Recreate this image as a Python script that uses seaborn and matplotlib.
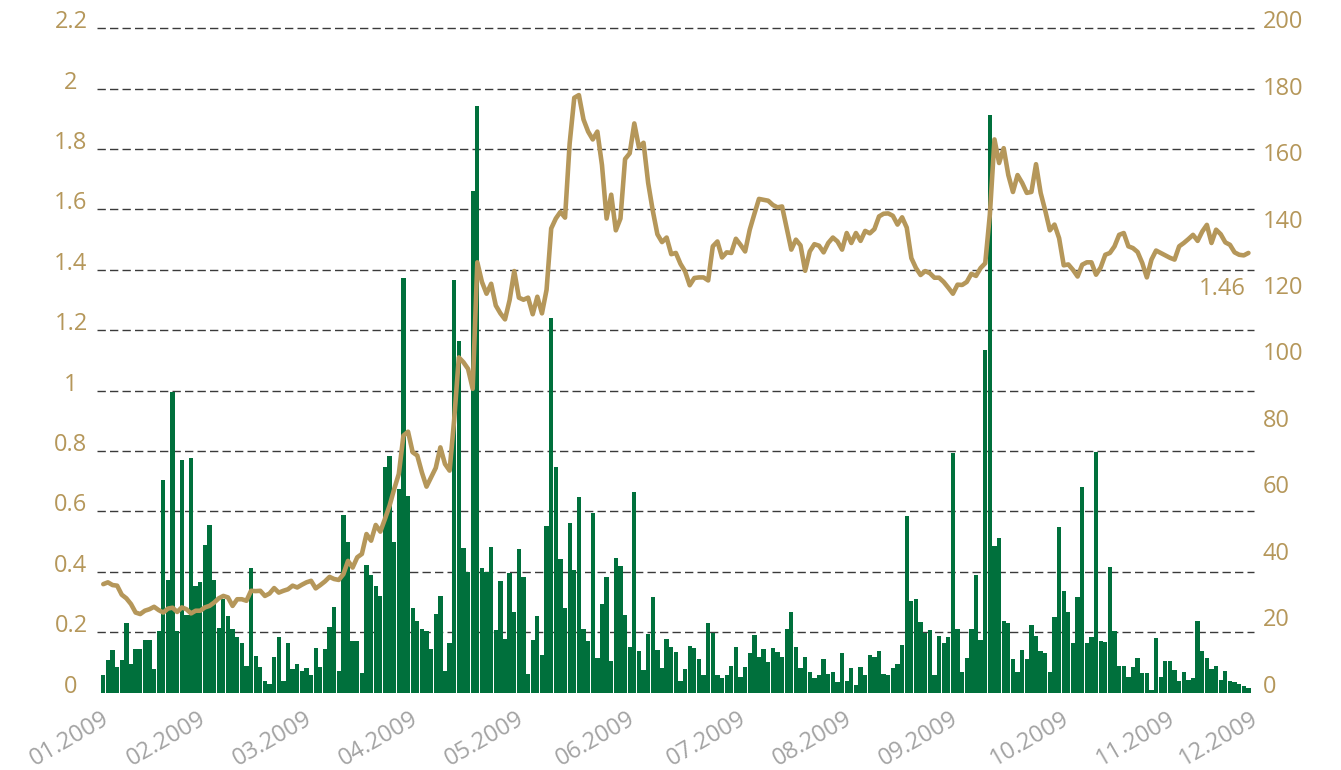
import numpy as np
import pandas as pd
import seaborn as sns
import matplotlib.pyplot as plt
from matplotlib import transforms

sns.set_style("white")
plt.rcParams["font.family"] = ["Open Sans", "DejaVu Sans"]

# ===================== DATA =====================
# daily turnover (right axis) and share price (left axis), one value per session
volume = [
    5.2, 9.7, 12.7, 7.8, 9.7, 20.8, 8.7, 13.0, 13.0, 15.9,
    15.8, 7.2, 18.6, 64.0, 33.8, 90.5, 18.6, 70.0, 23.4, 70.6,
    32.0, 33.3, 44.4, 50.5, 33.8, 19.5, 28.1, 22.9, 19.2, 16.6,
    14.8, 8.0, 37.6, 10.9, 7.7, 3.5, 2.7, 10.7, 16.7, 3.5,
    14.9, 7.2, 8.5, 6.5, 7.5, 5.3, 13.4, 7.7, 13.1, 19.6,
    25.8, 6.5, 53.5, 45.2, 15.4, 15.4, 6.0, 38.5, 35.5, 32.2,
    29.1, 68.0, 71.3, 45.2, 61.4, 124.8, 59.3, 25.6, 21.4, 19.1,
    18.6, 13.1, 23.6, 29.0, 6.5, 14.8, 124.1, 105.8, 43.4, 36.2,
    151.0, 176.5, 37.5, 36.3, 43.8, 18.8, 33.7, 16.1, 36.0, 24.2,
    43.2, 34.7, 5.5, 15.8, 23.0, 11.3, 50.0, 112.9, 68.0, 40.3,
    25.6, 51.2, 37.0, 59.0, 19.2, 15.5, 54.2, 10.5, 26.8, 34.7,
    9.6, 40.6, 38.1, 23.2, 13.8, 60.3, 12.6, 6.9, 17.6, 28.9,
    12.9, 7.5, 16.1, 13.8, 12.3, 3.6, 7.1, 14.1, 13.4, 10.1,
    5.4, 21.0, 17.8, 5.3, 4.3, 5.3, 8.1, 13.8, 4.8, 7.6,
    11.9, 17.3, 10.6, 13.0, 9.3, 13.5, 12.1, 10.6, 19.2, 24.4,
    13.6, 7.4, 10.6, 6.3, 4.4, 5.3, 10.0, 5.7, 6.3, 3.3,
    11.8, 3.6, 7.4, 2.4, 7.6, 5.3, 11.3, 10.8, 12.5, 5.7,
    5.4, 7.3, 8.7, 14.3, 53.1, 27.5, 28.3, 21.2, 18.0, 18.8,
    5.4, 17.0, 14.9, 16.7, 72.2, 19.2, 6.1, 10.5, 19.1, 35.5,
    15.8, 103.1, 174.0, 44.1, 46.4, 21.6, 20.8, 10.2, 6.1, 12.9,
    10.2, 20.2, 17.0, 12.6, 11.9, 6.3, 22.6, 49.7, 30.5, 24.3,
    14.8, 28.9, 61.9, 14.8, 16.6, 72.4, 15.6, 15.1, 37.9, 18.6,
    8.1, 7.9, 4.8, 7.8, 10.3, 6.0, 5.9, 0.9, 16.4, 4.8,
    9.6, 9.6, 6.8, 3.6, 6.3, 3.9, 4.3, 21.4, 12.4, 10.4,
    7.1, 7.9, 3.8, 6.5, 3.4, 3.2, 2.6, 2.0, 1.3,
]

price = [
    0.359, 0.365, 0.356, 0.354, 0.324, 0.312, 0.293, 0.265, 0.260, 0.271,
    0.276, 0.284, 0.273, 0.265, 0.278, 0.281, 0.267, 0.282, 0.276, 0.262,
    0.271, 0.271, 0.282, 0.287, 0.298, 0.312, 0.320, 0.315, 0.287, 0.309,
    0.309, 0.304, 0.337, 0.336, 0.337, 0.320, 0.328, 0.346, 0.331, 0.337,
    0.342, 0.354, 0.348, 0.357, 0.365, 0.370, 0.345, 0.356, 0.368, 0.383,
    0.376, 0.373, 0.392, 0.436, 0.414, 0.448, 0.459, 0.525, 0.503, 0.555,
    0.533, 0.575, 0.619, 0.674, 0.724, 0.851, 0.864, 0.796, 0.785, 0.729,
    0.682, 0.713, 0.744, 0.812, 0.757, 0.735, 0.906, 1.110, 1.094, 1.072,
    1.006, 1.425, 1.360, 1.321, 1.354, 1.282, 1.256, 1.236, 1.300, 1.396,
    1.308, 1.301, 1.308, 1.253, 1.311, 1.256, 1.334, 1.537, 1.570, 1.592,
    1.573, 1.819, 1.970, 1.979, 1.898, 1.858, 1.832, 1.858, 1.747, 1.570,
    1.649, 1.531, 1.570, 1.767, 1.786, 1.885, 1.806, 1.821, 1.688, 1.596,
    1.518, 1.492, 1.507, 1.452, 1.456, 1.420, 1.395, 1.349, 1.373, 1.375,
    1.375, 1.365, 1.478, 1.494, 1.441, 1.458, 1.456, 1.503, 1.483, 1.461,
    1.533, 1.585, 1.635, 1.632, 1.629, 1.615, 1.607, 1.610, 1.538, 1.467,
    1.500, 1.481, 1.397, 1.461, 1.485, 1.480, 1.458, 1.489, 1.507, 1.494,
    1.467, 1.522, 1.489, 1.522, 1.496, 1.529, 1.521, 1.535, 1.577, 1.586,
    1.587, 1.579, 1.550, 1.574, 1.540, 1.439, 1.406, 1.383, 1.396, 1.389,
    1.374, 1.374, 1.360, 1.341, 1.321, 1.351, 1.350, 1.360, 1.387, 1.380,
    1.406, 1.422, 1.583, 1.832, 1.754, 1.803, 1.714, 1.658, 1.714, 1.688,
    1.655, 1.658, 1.750, 1.655, 1.596, 1.531, 1.550, 1.505, 1.415, 1.418,
    1.400, 1.378, 1.417, 1.425, 1.425, 1.384, 1.408, 1.450, 1.456, 1.478,
    1.516, 1.522, 1.478, 1.472, 1.459, 1.423, 1.375, 1.434, 1.464, 1.456,
    1.448, 1.440, 1.434, 1.478, 1.489, 1.502, 1.516, 1.496, 1.527, 1.549,
    1.489, 1.533, 1.518, 1.491, 1.483, 1.458, 1.450, 1.448, 1.456,
]

month_labels = [
    "01.2009", "02.2009", "03.2009", "04.2009", "05.2009", "06.2009",
    "07.2009", "08.2009", "09.2009", "10.2009", "11.2009", "12.2009",
]
# index of the first session of each month (last one = end of data)
month_start = [0, 21, 44, 67, 90, 114, 138, 161, 184, 208, 231, 249]

price_ticks = np.round(np.arange(0, 2.21, 0.2), 1)
volume_ticks = np.arange(0, 201, 20)

GREEN = "#00703C"
GOLD = "#B5975A"
GREY = "#A3A3A3"
GRID = "#3A3A3A"

df = pd.DataFrame({"day": np.arange(len(volume)), "volume": volume, "price": price})

# ===================== FIGURE =====================
fig = plt.figure(figsize=(13.41, 7.70), dpi=100)
ax = fig.add_axes([0.0721, 0.1006, 0.8630, 0.8626])
ax2 = ax.twinx()

sns.barplot(data=df, x="day", y="volume", ax=ax, color=GREEN,
            saturation=1, width=0.93, linewidth=0)
sns.lineplot(data=df, x="day", y="price", ax=ax2, color=GOLD, linewidth=3.3)

# dashed grid on the price scale, kept behind the bars
blend = transforms.blended_transform_factory(ax.transAxes, ax2.transData)
ax.hlines(price_ticks[1:], 0, 1, transform=blend, colors=GRID, linewidth=1.0,
          linestyles=(0, (6.0, 3.0)), zorder=0.5, clip_on=False)

# ===================== AXES =====================
ax.set_xlim(-1.43, 249.2)
ax.set_ylim(0, 200)
ax2.set_ylim(0, 2.2)

ax.yaxis.tick_right()
ax.set_yticks(volume_ticks)
ax.set_yticklabels([str(v) for v in volume_ticks])
ax.tick_params(axis="y", length=0, pad=6.5, labelsize=17, labelcolor=GOLD)
for t in ax.get_yticklabels():
    t.set_va("baseline")

ax2.yaxis.tick_left()
ax2.set_yticks(price_ticks)
ax2.set_yticklabels([f"{v:g}" for v in price_ticks])
ax2.tick_params(axis="y", length=0, pad=18.5, labelsize=17, labelcolor=GOLD)
for t in ax2.get_yticklabels():
    t.set_ha("center")
    t.set_va("baseline")

ax.set_xticks(np.array(month_start) - 0.5)
ax.set_xticklabels(month_labels, rotation=30, ha="right", va="top",
                   rotation_mode="anchor", color=GREY, fontsize=17)
ax.tick_params(axis="x", length=0, pad=10)

for a in (ax, ax2):
    a.set_xlabel("")
    a.set_ylabel("")
    for s in a.spines.values():
        s.set_visible(False)

# last price label under the end of the line
ax2.annotate(f"{price[-1]:.2f}", xy=(len(price) - 1, price[-1]),
             xytext=(-3, -42), textcoords="offset pixels",
             ha="right", va="baseline", color=GOLD, fontsize=17)

fig.savefig("out.png", dpi=100)
